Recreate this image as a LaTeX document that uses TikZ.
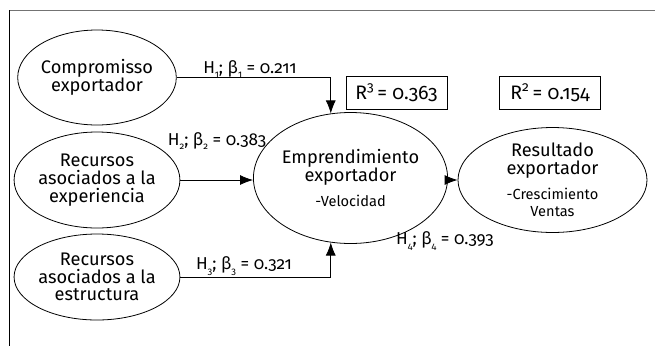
\documentclass[tikz,border=0pt]{standalone}
\usepackage{fontspec}
\setmainfont[Numbers=OldStyle]{Fira Sans}
\usetikzlibrary{arrows.meta,shapes.geometric}
\tikzset{
  latent/.style={ellipse,draw,line width=0.8pt,inner sep=0pt,align=center,
    font=\fontsize{18.2}{17.8}\selectfont},
  rbox/.style={draw,line width=0.8pt,minimum width=101pt,minimum height=33pt,inner sep=0pt,
    font=\fontsize{19.5}{18}\selectfont},
  path/.style={line width=0.8pt,-{Latex[length=13pt,width=10pt]}},
  coef/.style={font=\fontsize{17.2}{18}\selectfont,inner sep=0pt},
}
\newcommand{\smalltxt}[1]{{\fontsize{14.6}{17}\selectfont #1}}
\newcommand{\lowsub}[1]{\raisebox{-0.5ex}{\fontsize{9.5}{10}\selectfont #1}}
\begin{document}
\begin{tikzpicture}[x=1pt,y=-1pt]
\useasboundingbox (0,0) rectangle (655,346);
\draw[line width=0.9pt,black!55] (9,10) -- (655,10);
\draw[line width=0.9pt] (9,10) -- (9,346);
\node[latent,minimum width=140pt,minimum height=95pt] (e1) at (97,77.5) {Compromisso\\exportador};
\node[latent,minimum width=140pt,minimum height=96pt] (e2) at (97,180) {Recursos\\asociados a la\\experiencia};
\node[latent,minimum width=140pt,minimum height=86pt] (e3) at (97,277) {Recursos\\asociados a la\\estructura};
\node[latent,minimum width=153pt,minimum height=131pt] (c) at (350.5,178) {Emprendimiento\\exportador\\[8pt]\smalltxt{-Velocidad}};
\node[latent,minimum width=189pt,minimum height=102pt] (r) at (552.5,180) {Resultado\\exportador\\[7pt]\smalltxt{-Crescimiento}\\\smalltxt{Ventas}};
\node[rbox] (b1) at (396.5,92.5) {R\textsuperscript{3}\,= 0.363};
\node[rbox] (b2) at (550,92.5) {R\textsuperscript{2}\,= 0.154};
\draw[path] (e1.east) -| (c.107);
\draw[path] (e2.east) -- (e2.east -| c.west);
\draw[path] (e3.east) -| (c.253);
\draw[path] (c.east |- r.west) -- (r.west);
\node[coef] (l1) at (250,69) {H\lowsub{1}; β\lowsub{1} = 0.211};
\node[coef] (l2) at (217,141) {H\lowsub{2}; β\lowsub{2} = 0.383};
\node[coef] (l3) at (244,266) {H\lowsub{3}; β\lowsub{3} = 0.321};
\node[coef] (l4) at (445,241) {H\lowsub{4}; β\lowsub{4} = 0.393};
\end{tikzpicture}
\end{document}
